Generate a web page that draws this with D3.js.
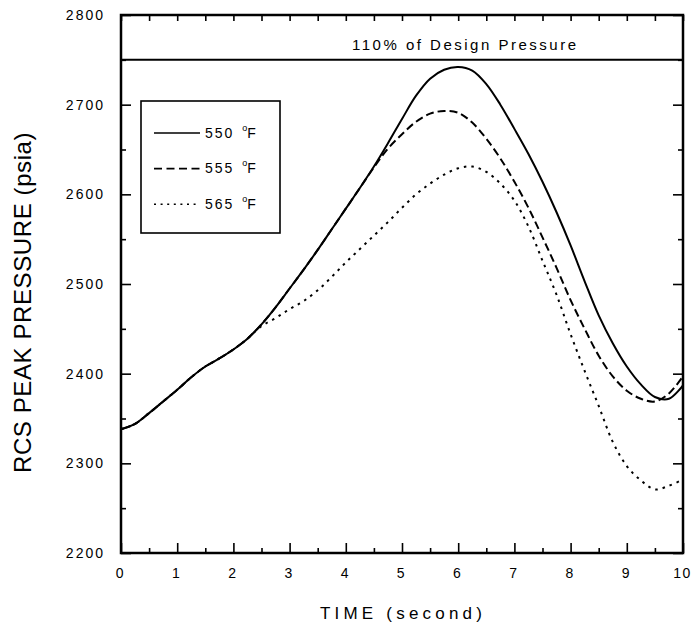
<!DOCTYPE html>
<html>
<head>
<meta charset="utf-8">
<script src="https://cdn.jsdelivr.net/npm/d3@7"></script>
<style>
	body { margin: 0; background: #fff; }
	text { font-family: Arial, "Liberation Sans", sans-serif; fill: #000; }
</style>
</head>
<body>
<div id="chart-area"></div>
<script>
// values, every 0.25 s
const time = [0, 0.25, 0.5, 0.75, 1, 1.25, 1.5, 1.75, 2, 2.25, 2.5, 2.75, 3, 3.25, 3.5, 3.75,
	4, 4.25, 4.5, 4.75, 5, 5.25, 5.5, 5.75, 6, 6.25, 6.5, 6.75, 7, 7.25, 7.5, 7.75,
	8, 8.25, 8.5, 8.75, 9, 9.25, 9.5, 9.75, 10];

const p550 = [2338, 2344, 2356, 2369, 2382, 2396, 2408, 2417, 2427, 2439, 2455, 2474, 2495, 2516, 2538, 2561,
	2584, 2607, 2631, 2657, 2684, 2710, 2729, 2739, 2742, 2738, 2723, 2700, 2673, 2645, 2614, 2580,
	2543, 2503, 2465, 2434, 2408, 2388, 2374, 2372, 2387];

const p555 = [2338, 2344, 2356, 2369, 2382, 2396, 2408, 2417, 2427, 2439, 2455, 2474, 2495, 2516, 2538, 2561,
	2584, 2607, 2630, 2651, 2667, 2681, 2690, 2693, 2691, 2680, 2662, 2640, 2614, 2585, 2552, 2518,
	2482, 2450, 2420, 2397, 2381, 2372, 2369, 2378, 2397];

const p565 = [2338, 2344, 2356, 2369, 2382, 2396, 2408, 2417, 2427, 2439, 2453, 2462, 2472, 2481, 2493, 2508,
	2524, 2539, 2554, 2569, 2585, 2600, 2612, 2622, 2629, 2631, 2625, 2612, 2593, 2564, 2526, 2488,
	2444, 2403, 2364, 2324, 2297, 2281, 2271, 2275, 2282];

const seriesLabels = ["550", "555", "565"];
const xTicks = [0, 1, 2, 3, 4, 5, 6, 7, 8, 9, 10];
const xMinorTicks = [0.5, 1.5, 2.5, 3.5, 4.5, 5.5, 6.5, 7.5, 8.5, 9.5];
const yTicks = [2200, 2300, 2400, 2500, 2600, 2700, 2800];
const yMinorTicks = [2250, 2350, 2450, 2550, 2650, 2750];
const designLimit = 2750;

// canvas
const canvasWidth = 692;
const canvasHeight = 628;
const margin = { top: 15, bottom: 75, left: 121, right: 9 };

const svg = d3.select("#chart-area")
	.append("svg")
		.attr("width", canvasWidth)
		.attr("height", canvasHeight);

// scales
const xScale = d3.scaleLinear()
	.domain([0, 10])
	.range([margin.left, canvasWidth - margin.right]);

const yScale = d3.scaleLinear()
	.domain([2200, 2800])
	.range([canvasHeight - margin.bottom, margin.top]);

// axes (ticks point inward)
const styleAxis = (g) => {
	g.select(".domain").remove();
	g.selectAll("line").attr("stroke", "#000").attr("stroke-width", 1.6);
	g.selectAll("text")
		.attr("font-size", "14px")
		.attr("letter-spacing", "2px")
		.attr("fill", "#000");
};

svg.append("g")
	.attr("transform", `translate(0,${yScale(2200)})`)
	.call(d3.axisBottom(xScale).tickValues(xTicks).tickSize(-10).tickPadding(15).tickFormat(d3.format("d")))
	.call(styleAxis)
	.selectAll("text")
		.attr("letter-spacing", "1.5px")
		.attr("dx", "-1px");

svg.append("g")
	.attr("transform", `translate(0,${yScale(2200)})`)
	.call(d3.axisBottom(xScale).tickValues(xMinorTicks).tickSize(-5).tickFormat(""))
	.call(styleAxis);

svg.append("g")
	.attr("transform", `translate(0,${yScale(2800)})`)
	.call(d3.axisTop(xScale).tickValues(xTicks.concat(xMinorTicks)).tickSize(-6).tickFormat(""))
	.call(styleAxis);

svg.append("g")
	.attr("transform", `translate(${xScale(0)},0)`)
	.call(d3.axisLeft(yScale).tickValues(yTicks).tickSize(-10).tickPadding(16).tickFormat(d3.format("d")))
	.call(styleAxis);

svg.append("g")
	.attr("transform", `translate(${xScale(0)},0)`)
	.call(d3.axisLeft(yScale).tickValues(yMinorTicks).tickSize(-5).tickFormat(""))
	.call(styleAxis);

svg.append("g")
	.attr("transform", `translate(${xScale(10)},0)`)
	.call(d3.axisRight(yScale).tickValues(yTicks).tickSize(-10).tickFormat(""))
	.call(styleAxis);

svg.append("g")
	.attr("transform", `translate(${xScale(10)},0)`)
	.call(d3.axisRight(yScale).tickValues(yMinorTicks).tickSize(-5).tickFormat(""))
	.call(styleAxis);

// frame
svg.append("rect")
	.attr("x", xScale(0))
	.attr("y", yScale(2800))
	.attr("width", xScale(10) - xScale(0))
	.attr("height", yScale(2200) - yScale(2800))
	.attr("fill", "none")
	.attr("stroke", "#000")
	.attr("stroke-width", 2.5);

// design pressure limit
svg.append("line")
	.attr("x1", xScale(0))
	.attr("x2", xScale(10))
	.attr("y1", yScale(designLimit))
	.attr("y2", yScale(designLimit))
	.attr("stroke", "#000")
	.attr("stroke-width", 2);

svg.append("text")
	.attr("x", 352)
	.attr("y", 50)
	.attr("font-size", "15px")
	.attr("letter-spacing", "2.5px")
	.text("110% of Design Pressure");

// curves
const dashes = [null, "8,4", "2.5,5"];
const series = [p550, p555, p565];

const line = d3.line()
	.x((d, i) => xScale(time[i]))
	.y((d) => yScale(d))
	.curve(d3.curveCatmullRom.alpha(0.5));

svg.selectAll("path.curve")
	.data(series)
	.enter()
	.append("path")
		.attr("class", "curve")
		.attr("d", line)
		.attr("fill", "none")
		.attr("stroke", "#000")
		.attr("stroke-width", 2)
		.attr("stroke-dasharray", (d, i) => dashes[i]);

// legend
svg.append("rect")
	.attr("x", 141)
	.attr("y", 101)
	.attr("width", 139)
	.attr("height", 132)
	.attr("fill", "#fff")
	.attr("stroke", "#000")
	.attr("stroke-width", 1.6);

const legendDashes = [null, "8,4.5", "2,4.6"];
const legend = svg.selectAll("g.legend")
	.data(seriesLabels)
	.enter()
	.append("g")
		.attr("class", "legend")
		.attr("transform", (d, i) => `translate(0,${137.5 + i * 35.6})`);

legend.append("line")
	.attr("x1", 154)
	.attr("x2", 200)
	.attr("y1", -4.5)
	.attr("y2", -4.5)
	.attr("stroke", "#000")
	.attr("stroke-width", 1.6)
	.attr("stroke-dasharray", (d, i) => legendDashes[i]);

const legendText = legend.append("text")
	.attr("x", 205)
	.attr("y", 0)
	.attr("font-size", "14px")
	.attr("letter-spacing", "2px");

legendText.append("tspan").text((d) => d + " ");
legendText.append("tspan")
	.attr("font-size", "9px")
	.attr("letter-spacing", "0px")
	.attr("dx", 2)
	.attr("dy", -7)
	.text("o");
legendText.append("tspan")
	.attr("dy", 7)
	.text("F");

// axis titles
svg.append("text")
	.attr("x", 320)
	.attr("y", 619)
	.attr("font-size", "17px")
	.attr("letter-spacing", "4.2px")
	.text("TIME (second)");

svg.append("text")
	.attr("transform", "translate(31,473) rotate(-90)")
	.attr("font-size", "24px")
	.attr("letter-spacing", "0.6px")
	.text("RCS PEAK PRESSURE (psia)");
</script>
</body>
</html>
